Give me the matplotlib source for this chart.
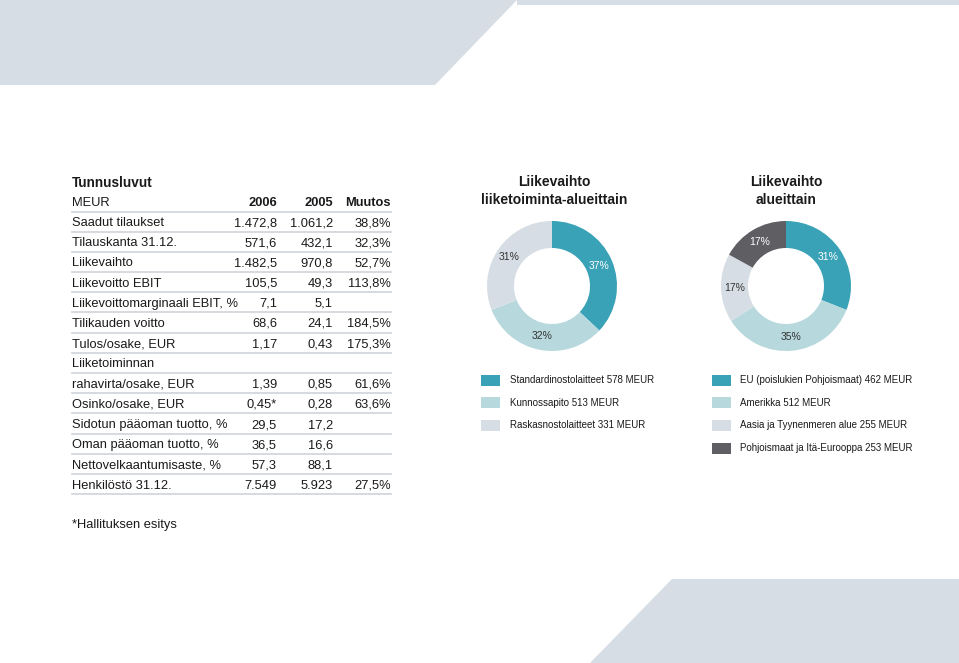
import matplotlib.pyplot as plt
from matplotlib.patches import Polygon, Rectangle

plt.rcParams['font.family'] = ['Liberation Sans', 'DejaVu Sans']

# Table data
row_labels = ['Saadut tilaukset', 'Tilauskanta 31.12.', 'Liikevaihto', 'Liikevoitto EBIT',
              'Liikevoittomarginaali EBIT, %', 'Tilikauden voitto', 'Tulos/osake, EUR',
              'Liiketoiminnan', 'rahavirta/osake, EUR', 'Osinko/osake, EUR',
              'Sidotun pääoman tuotto, %', 'Oman pääoman tuotto, %',
              'Nettovelkaantumisaste, %', 'Henkilöstö 31.12.']
values_2006 = ['1.472,8', '571,6', '1.482,5', '105,5', '7,1', '68,6', '1,17', '',
               '1,39', '0,45*', '29,5', '36,5', '57,3', '7.549']
values_2005 = ['1.061,2', '432,1', '970,8', '49,3', '5,1', '24,1', '0,43', '',
               '0,85', '0,28', '17,2', '16,6', '88,1', '5.923']
changes = ['38,8%', '32,3%', '52,7%', '113,8%', '', '184,5%', '175,3%', '',
           '61,6%', '63,6%', '', '', '', '27,5%']

# Donut data
seg_labels = ['Standardinostolaitteet 578 MEUR', 'Kunnossapito 513 MEUR',
              'Raskasnostolaitteet 331 MEUR']
seg_pct = [37, 32, 31]
area_labels = ['EU (poislukien Pohjoismaat) 462 MEUR', 'Amerikka 512 MEUR',
               'Aasia ja Tyynenmeren alue 255 MEUR', 'Pohjoismaat ja Itä-Eurooppa 253 MEUR']
area_pct = [31, 35, 17, 17]

teal = '#3aa2b7'
light_teal = '#b7d9dd'
light_gray = '#d6dde4'
dark_gray = '#5e5e63'
seg_colors = [teal, light_teal, light_gray]
area_colors = [teal, light_teal, light_gray, dark_gray]
text_col = '#1a1a1a'
line_col = '#d3d7db'

W, H = 959, 663
fig = plt.figure(figsize=(W / 100, H / 100), dpi=100)
ax = fig.add_axes([0, 0, 1, 1])
ax.set_xlim(0, W)
ax.set_ylim(H, 0)
ax.axis('off')

# background shapes
ax.add_patch(Polygon([(0, 0), (517, 0), (435, 85), (0, 85)], color=light_gray, lw=0))
ax.add_patch(Rectangle((517, 0), W - 517, 5, color=light_gray, lw=0))
ax.add_patch(Polygon([(672, 579), (W, 579), (W, H), (590, H)], color=light_gray, lw=0))

# table
x0, x_end = 72, 391
col_2006, col_2005, col_chg = 277, 333, 391
fs = 9.3
ax.text(x0, 183, 'Tunnusluvut', fontsize=9.8, fontweight='bold', va='center', color=text_col)
ax.text(x0, 203, 'MEUR', fontsize=fs, va='center', color=text_col)
for x, t in [(col_2006, '2006'), (col_2005, '2005'), (col_chg, 'Muutos')]:
    ax.text(x, 203, t, fontsize=fs, fontweight='bold', ha='right', va='center', color=text_col)
ax.plot([x0, x_end], [211.5, 211.5], color=line_col, lw=1.3)

step = 20.2
for i, lab in enumerate(row_labels):
    y = 223 + i * step
    ax.text(x0, y, lab, fontsize=fs, va='center', color=text_col)
    ax.text(col_2006, y, values_2006[i], fontsize=fs, ha='right', va='center', color=text_col)
    ax.text(col_2005, y, values_2005[i], fontsize=fs, ha='right', va='center', color=text_col)
    ax.text(col_chg, y, changes[i], fontsize=fs, ha='right', va='center', color=text_col)
    ax.plot([x0, x_end], [y + 8.5, y + 8.5], color=line_col, lw=1.3)

ax.text(x0, 525, '*Hallituksen esitys', fontsize=fs, va='center', color=text_col)


def donut(cx, cy, pcts, colors, light_text):
    r = 70
    dax = fig.add_axes([(cx - r) / W, 1 - (cy + r) / H, 2 * r / W, 2 * r / H])
    wedges, texts, autotexts = dax.pie(pcts, colors=colors, startangle=90, counterclock=False,
                                       radius=65, wedgeprops=dict(width=27, linewidth=0),
                                       autopct='%d%%', pctdistance=0.79,
                                       textprops=dict(fontsize=7.5))
    for t, white in zip(autotexts, light_text):
        t.set_color('white' if white else '#333333')
    dax.set_xlim(-r, r)
    dax.set_ylim(-r, r)
    dax.axis('off')


donut(552, 286, seg_pct, seg_colors, [True, False, False])
donut(786, 286, area_pct, area_colors, [True, False, False, True])

ax.text(554, 191, 'Liikevaihto\nliiketoiminta-alueittain', fontsize=10, fontweight='bold',
        ha='center', va='center', color=text_col, linespacing=1.3)
ax.text(786, 191, 'Liikevaihto\nalueittain', fontsize=10, fontweight='bold',
        ha='center', va='center', color=text_col, linespacing=1.3)

# legends
for i, (lab, c) in enumerate(zip(seg_labels, seg_colors)):
    y = 380 + i * 22.5
    ax.add_patch(Rectangle((481, y - 5.5), 19, 11, color=c, lw=0))
    ax.text(510, y, lab, fontsize=7, va='center', color=text_col)
for i, (lab, c) in enumerate(zip(area_labels, area_colors)):
    y = 380 + i * 22.7
    ax.add_patch(Rectangle((712, y - 5.5), 19, 11, color=c, lw=0))
    ax.text(740, y, lab, fontsize=7, va='center', color=text_col)

fig.savefig('out.png', dpi=100)
